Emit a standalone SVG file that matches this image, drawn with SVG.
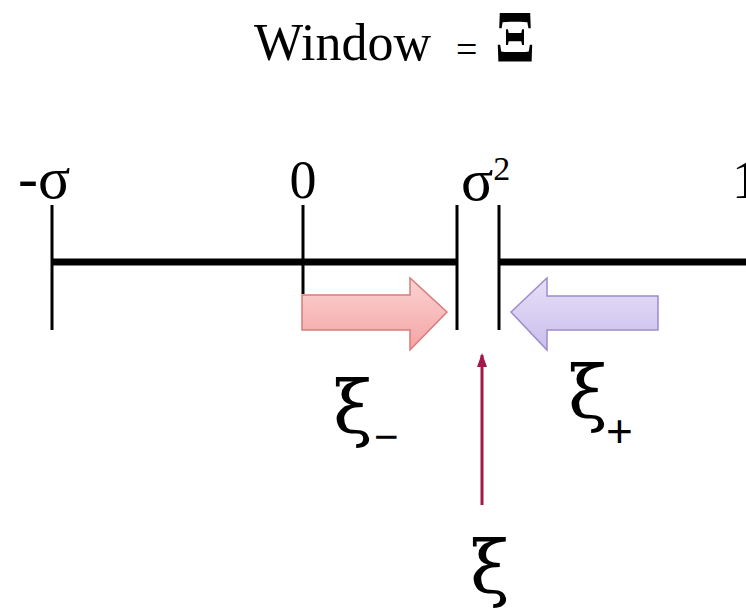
<svg xmlns="http://www.w3.org/2000/svg" width="746" height="614" viewBox="0 0 746 614">
  <defs>
    <linearGradient id="pinkFill" x1="0" y1="0" x2="0" y2="1">
      <stop offset="0" stop-color="#fbd3d3"/>
      <stop offset="1" stop-color="#f5a3a3"/>
    </linearGradient>
    <linearGradient id="lilacFill" x1="0" y1="0" x2="0" y2="1">
      <stop offset="0" stop-color="#e6dff7"/>
      <stop offset="1" stop-color="#cbbfed"/>
    </linearGradient>
    <marker id="redHead" markerWidth="14" markerHeight="10" refX="12" refY="5" orient="auto" markerUnits="userSpaceOnUse" viewBox="0 0 14 10">
      <path d="M0 0 L14 5 L0 10 Z" fill="#a3174a"/>
    </marker>
    <style>
      .serif { font-family: "Liberation Serif", "DejaVu Serif", serif; fill: #000; }
      .greek { font-family: "DejaVu Serif", "Liberation Serif", serif; fill: #000; }
      .sans { font-family: "Liberation Sans", "DejaVu Sans", sans-serif; fill: #000; }
      .axis { stroke: #000; stroke-width: 7; fill: none; }
      .tick { stroke: #000; stroke-width: 3; fill: none; }
    </style>
  </defs>
  <rect width="746" height="614" fill="#fff"/>

  <!-- title -->
  <g id="title">
    <text class="serif" x="254" y="60" font-size="52">Window</text>
    <text class="serif" x="456" y="62" font-size="38">=</text>
    <text class="serif" x="495" y="62" font-size="74" font-weight="bold" textLength="40" lengthAdjust="spacingAndGlyphs">Ξ</text>
  </g>

  <!-- number line -->
  <g id="axis">
    <line class="axis" x1="52" y1="262" x2="456" y2="262"/>
    <line class="axis" x1="499" y1="262" x2="746" y2="262"/>
    <line class="tick" x1="52" y1="205" x2="52" y2="330"/>
    <line class="tick" x1="303" y1="205" x2="303" y2="294"/>
    <line class="tick" x1="457" y1="205" x2="457" y2="330"/>
    <line class="tick" x1="499" y1="205" x2="499" y2="330"/>
  </g>

  <g id="label-neg-sigma">
    <text class="serif" x="18" y="198" font-size="60">-σ</text>
  </g>
  <g id="label-zero">
    <text class="serif" x="303" y="198" font-size="54" text-anchor="middle">0</text>
  </g>
  <g id="label-sigma2">
    <text class="serif" x="461" y="200" font-size="60">σ<tspan font-size="34" dy="-20">2</tspan></text>
  </g>
  <g id="label-right">
    <text class="serif" x="732" y="198" font-size="54">1</text>
  </g>

  <!-- block arrows -->
  <g id="arrow-minus">
    <path d="M302 295 L410 295 L410 278 L447 312 L410 350 L410 330 L302 330 Z" fill="url(#pinkFill)" stroke="#d77b7b" stroke-width="1.5"/>
  </g>
  <g id="arrow-plus">
    <path d="M658 296 L547 296 L547 278 L511 312 L547 350 L547 330 L658 330 Z" fill="url(#lilacFill)" stroke="#9d8ccb" stroke-width="1.5"/>
  </g>

  <g id="label-xi-minus">
    <text class="greek" x="333" y="433" font-size="72">ξ</text>
    <text class="sans" x="374" y="451" font-size="42">−</text>
  </g>
  <g id="label-xi-plus">
    <text class="greek" x="568" y="418" font-size="72">ξ</text>
    <text class="sans" x="606" y="447" font-size="46">+</text>
  </g>
  <g id="label-xi">
    <text class="greek" x="470" y="593" font-size="72">ξ</text>
  </g>

  <!-- connector -->
  <g id="connectors">
    <line x1="482" y1="505" x2="482" y2="355" stroke="#a3174a" stroke-width="3" marker-end="url(#redHead)"/>
  </g>
</svg>
